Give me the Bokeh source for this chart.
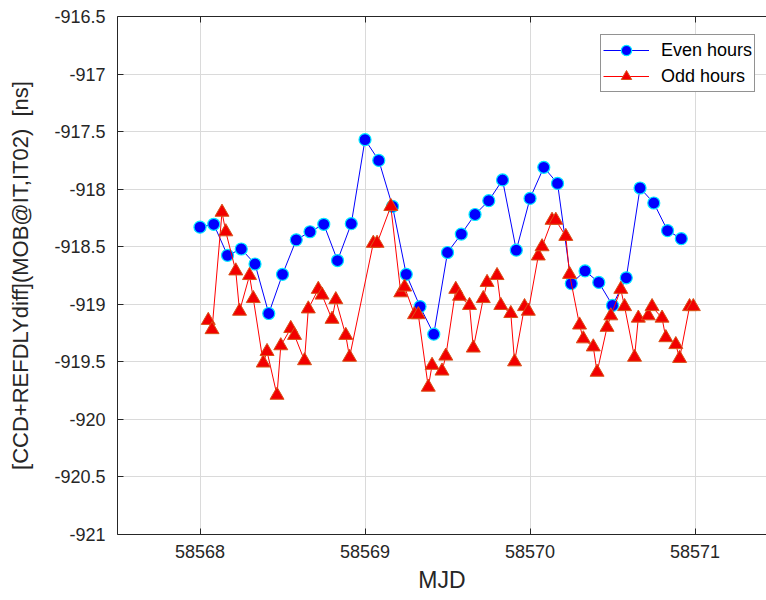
from bokeh.plotting import figure
from bokeh.models import LinearAxis, FixedTicker, Range1d, Legend, LegendItem
from bokeh.embed import file_html
from bokeh.resources import INLINE

mjd0 = 58568

even_hours = [0, 2, 4, 6, 8, 10, 12, 14, 16, 18, 20, 22,
              24, 26, 28, 30, 32, 34, 36, 38, 40, 42, 44, 46,
              48, 50, 52, 54, 56, 58, 60, 62, 64, 66, 68, 70]
even_vals = [-918.33, -918.305, -918.575, -918.52, -918.65, -919.08, -918.74, -918.44, -918.37, -918.305, -918.62, -918.30,
             -917.57, -917.75, -918.15, -918.74, -919.02, -919.26, -918.55, -918.39, -918.22, -918.10, -917.92, -918.53,
             -918.08, -917.81, -917.95, -918.82, -918.71, -918.81, -919.01, -918.77, -917.99, -918.12, -918.36, -918.43]

odd_hours = [1.2, 1.75, 3.2, 3.75, 5.2, 5.75, 7.2, 7.75, 9.2, 9.75, 11.2, 11.75, 13.2, 13.75, 15.2, 15.75,
             17.2, 17.75, 19.2, 19.75, 21.2, 21.75,
             25.2, 25.75, 27.75, 29.2, 29.75, 31.2, 31.75, 33.2, 33.75, 35.2, 35.75, 37.2, 37.75, 39.2, 39.75,
             41.2, 41.75, 43.2, 43.75, 45.2, 45.75, 47.2, 47.75,
             49.2, 49.75, 51.2, 51.75, 53.2, 53.75, 55.2, 55.75, 57.2, 57.75, 59.2, 59.75, 61.2, 61.75,
             63.2, 63.75, 65.2, 65.75, 67.2, 67.75, 69.2, 69.75, 71.2, 71.75]
odd_vals = [-919.14, -919.22, -918.20, -918.37, -918.71, -919.06, -918.75, -918.95, -919.51, -919.41, -919.79, -919.36,
            -919.21, -919.27, -919.49, -919.04, -918.87, -918.92, -919.13, -918.96, -919.27, -919.46,
            -918.47, -918.47, -918.15, -918.90, -918.85, -919.09, -919.09, -919.72, -919.53, -919.58, -919.45,
            -918.87, -918.93, -919.01, -919.38, -918.95, -918.81, -918.75, -919.01, -919.08, -919.50, -919.02, -919.06,
            -918.58, -918.50, -918.27, -918.27, -918.41, -918.74, -919.18, -919.30, -919.37, -919.59, -919.20, -919.10,
            -918.87, -919.02, -919.46, -919.12, -919.10, -919.02, -919.12, -919.29, -919.35, -919.47, -919.02, -919.02]

x_ticks = [58568, 58569, 58570, 58571]
x_tick_labels = ["58568", "58569", "58570", "58571"]
y_ticks = [-921, -920.5, -920, -919.5, -919, -918.5, -918, -917.5, -917, -916.5]
y_tick_labels = ["-921", "-920.5", "-920", "-919.5", "-919", "-918.5", "-918", "-917.5", "-917", "-916.5"]

even_x = [mjd0 + h / 24 for h in even_hours]
odd_x = [mjd0 + h / 24 for h in odd_hours]

FONT = "Liberation Sans, Arial, Helvetica, sans-serif"
TXT = "#262626"

p = figure(width=766, height=600, output_backend="svg", toolbar_location=None,
           x_range=Range1d(58567.5, 58571.433), y_range=Range1d(-921, -916.5),
           min_border_left=117, min_border_right=0, min_border_top=16, min_border_bottom=66)
p.outline_line_color = None
p.background_fill_color = "white"
p.border_fill_color = "white"

for ax, ticks, labels in ((p.xaxis[0], x_ticks, x_tick_labels), (p.yaxis[0], y_ticks, y_tick_labels)):
    ax.ticker = FixedTicker(ticks=ticks)
    ax.major_label_overrides = {t: l for t, l in zip(ticks, labels)}
    ax.major_tick_in = 6
    ax.major_tick_out = 0
    ax.minor_tick_in = 0
    ax.minor_tick_out = 0
    ax.axis_line_color = TXT
    ax.major_tick_line_color = TXT
    ax.major_label_text_font = FONT
    ax.major_label_text_font_size = "18px"
    ax.major_label_text_color = TXT
    ax.axis_label_text_font = FONT
    ax.axis_label_text_font_style = "normal"
    ax.axis_label_text_color = TXT

p.xaxis.axis_label = "MJD"
p.xaxis.axis_label_text_font_size = "23px"
p.xaxis.major_label_standoff = 10
p.xaxis.axis_label_standoff = 6

p.yaxis.axis_label = "[CCD+REFDLYdiff](MOB@IT,IT02) \u00a0[ns]"
p.yaxis.axis_label_text_font_size = "22px"
p.yaxis.major_label_standoff = 12
p.yaxis.axis_label_standoff = 18

top = LinearAxis(ticker=FixedTicker(ticks=x_ticks), major_tick_in=6, major_tick_out=0,
                 minor_tick_in=0, minor_tick_out=0, major_label_text_font_size="1px",
                 major_label_text_color=None, major_label_standoff=0,
                 axis_line_color=TXT, major_tick_line_color=TXT)
p.add_layout(top, "above")

p.xgrid.ticker = FixedTicker(ticks=x_ticks)
p.ygrid.ticker = FixedTicker(ticks=y_ticks)
for g in (p.xgrid[0], p.ygrid[0]):
    g.grid_line_color = "#DADADA"
    g.grid_line_width = 1

l1 = p.line(even_x, even_vals, line_color="#0000FF", line_width=1)
s1 = p.scatter(even_x, even_vals, marker="circle", size=12, fill_color="#0000FF",
               line_color="#00E8FF", line_width=1.2)
l2 = p.line(odd_x, odd_vals, line_color="#FF0000", line_width=1)
s2 = p.scatter(odd_x, odd_vals, marker="triangle", size=14, fill_color="#F20000",
               line_color="#D95319", line_width=1)

legend = Legend(items=[LegendItem(label="Even hours", renderers=[l1, s1]),
                       LegendItem(label="Odd hours", renderers=[l2, s2])],
                location=(483, 442))
legend.label_text_font = FONT
legend.label_text_font_size = "18px"
legend.label_text_color = "#000000"
legend.glyph_width = 46
legend.glyph_height = 26
legend.label_height = 20
legend.label_standoff = 12
legend.spacing = 0
legend.padding = 2
legend.margin = 0
legend.border_line_color = "#262626"
legend.border_line_width = 1
legend.background_fill_color = "white"
legend.background_fill_alpha = 1
p.add_layout(legend, "center")

open("out.html", "w").write(file_html(p, INLINE))
